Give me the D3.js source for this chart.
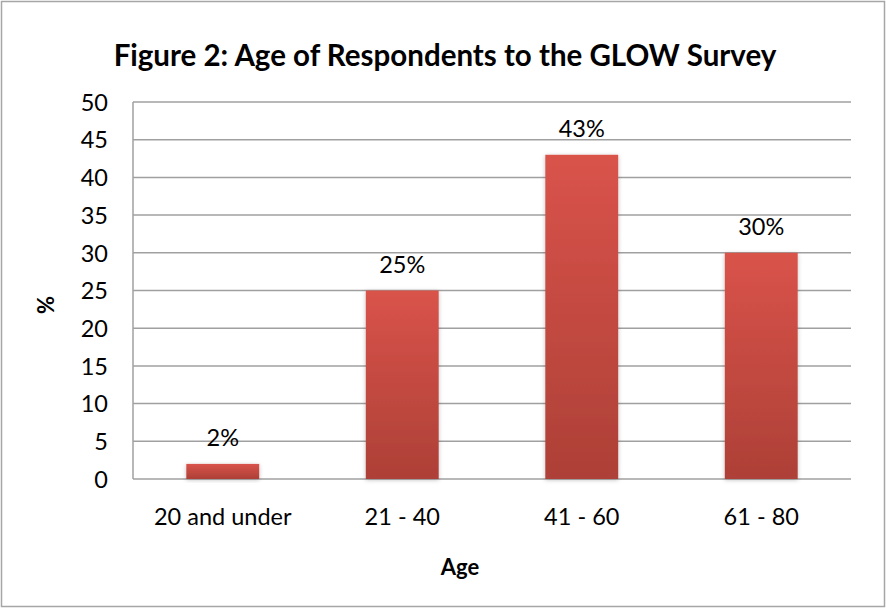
<!DOCTYPE html>
<html>
<head>
<meta charset="utf-8">
<script src="https://cdn.jsdelivr.net/npm/d3@7"></script>
<style>
  html, body { margin: 0; padding: 0; background: #fff; }
  svg { display: block; }
  text { font-family: Lato, "Open Sans", "Liberation Sans", sans-serif; fill: #000; }
</style>
</head>
<body>
<svg id="chart" width="886" height="608"></svg>
<script>
// Survey respondents by age group (percent)
const categories = ["20 and under", "21 - 40", "41 - 60", "61 - 80"];
const values = [2, 25, 43, 30];
const yTicks = [0, 5, 10, 15, 20, 25, 30, 35, 40, 45, 50];
const titleText = "Figure 2: Age of Respondents to the GLOW Survey";
const xTitle = "Age";
const yTitle = "%";

const svg = d3.select("#chart");
const W = 886, H = 608;
const plot = { left: 133, right: 851, top: 102, bottom: 479 };
const labelSize = 23.5;

// chart frame
svg.append("rect")
  .attr("x", 1.5).attr("y", 1.5)
  .attr("width", W - 3).attr("height", H - 3)
  .attr("fill", "#fff").attr("stroke", "#a6a6a6").attr("stroke-width", 1.5);

const defs = svg.append("defs");
const grad = defs.append("linearGradient")
  .attr("id", "barGrad").attr("x1", 0).attr("y1", 0).attr("x2", 0).attr("y2", 1);
grad.append("stop").attr("offset", "0%").attr("stop-color", "#d9534a");
grad.append("stop").attr("offset", "100%").attr("stop-color", "#ad4037");

const shadow = defs.append("filter").attr("id", "barShadow")
  .attr("x", "-20%").attr("y", "-20%").attr("width", "140%").attr("height", "140%");
shadow.append("feDropShadow")
  .attr("dx", 0).attr("dy", 1).attr("stdDeviation", 2)
  .attr("flood-color", "#000").attr("flood-opacity", 0.25);

const x = d3.scaleBand().domain(categories)
  .range([plot.left, plot.right]).paddingInner(0.594).paddingOuter(0.297);
const y = d3.scaleLinear().domain([0, 50]).range([plot.bottom, plot.top]);

// horizontal gridlines
svg.append("g").selectAll("line").data(yTicks).join("line")
  .attr("x1", plot.left).attr("x2", plot.right)
  .attr("y1", d => y(d)).attr("y2", d => y(d))
  .attr("stroke", "#a0a0a0").attr("stroke-width", 1.5);

// y axis line
svg.append("line")
  .attr("x1", plot.left).attr("x2", plot.left)
  .attr("y1", plot.top).attr("y2", plot.bottom)
  .attr("stroke", "#a0a0a0").attr("stroke-width", 1.5);

// y tick labels
const yAxis = d3.axisLeft(y).tickValues(yTicks).tickSize(0).tickPadding(0);
const gy = svg.append("g").attr("transform", `translate(${plot.left - 25},0)`).call(yAxis);
gy.select(".domain").remove();
gy.selectAll("text")
  .attr("font-size", labelSize).attr("font-family", "Lato, 'Open Sans', sans-serif")
  .attr("fill", "#000").attr("dy", "0.35em");

// x tick labels
const xAxis = d3.axisBottom(x).tickSize(0).tickPadding(0);
const gx = svg.append("g").attr("transform", `translate(0,${plot.bottom + 38})`).call(xAxis);
gx.select(".domain").remove();
gx.selectAll("text")
  .attr("font-size", labelSize).attr("font-family", "Lato, 'Open Sans', sans-serif")
  .attr("fill", "#000").attr("dy", "0.35em");

// bars
svg.append("g").selectAll("rect").data(values).join("rect")
  .attr("x", (d, i) => x(categories[i]))
  .attr("y", d => y(d))
  .attr("width", x.bandwidth())
  .attr("height", d => y(0) - y(d))
  .attr("fill", "url(#barGrad)")
  .attr("filter", "url(#barShadow)");

// value labels
svg.append("g").selectAll("text").data(values).join("text")
  .attr("x", (d, i) => x(categories[i]) + x.bandwidth() / 2)
  .attr("y", d => y(d) - 18)
  .attr("text-anchor", "middle")
  .attr("font-size", labelSize)
  .text(d => d + "%");

// titles
svg.append("text")
  .attr("x", 445).attr("y", 66)
  .attr("text-anchor", "middle")
  .attr("font-size", 29.5).attr("font-weight", "bold")
  .text(titleText);

svg.append("text")
  .attr("x", 460).attr("y", 575)
  .attr("text-anchor", "middle")
  .attr("font-size", 22).attr("font-weight", "bold")
  .text(xTitle);

svg.append("text")
  .attr("transform", "translate(54,305) rotate(-90)")
  .attr("text-anchor", "middle")
  .attr("font-size", 22).attr("font-weight", "bold")
  .text(yTitle);
</script>
</body>
</html>
